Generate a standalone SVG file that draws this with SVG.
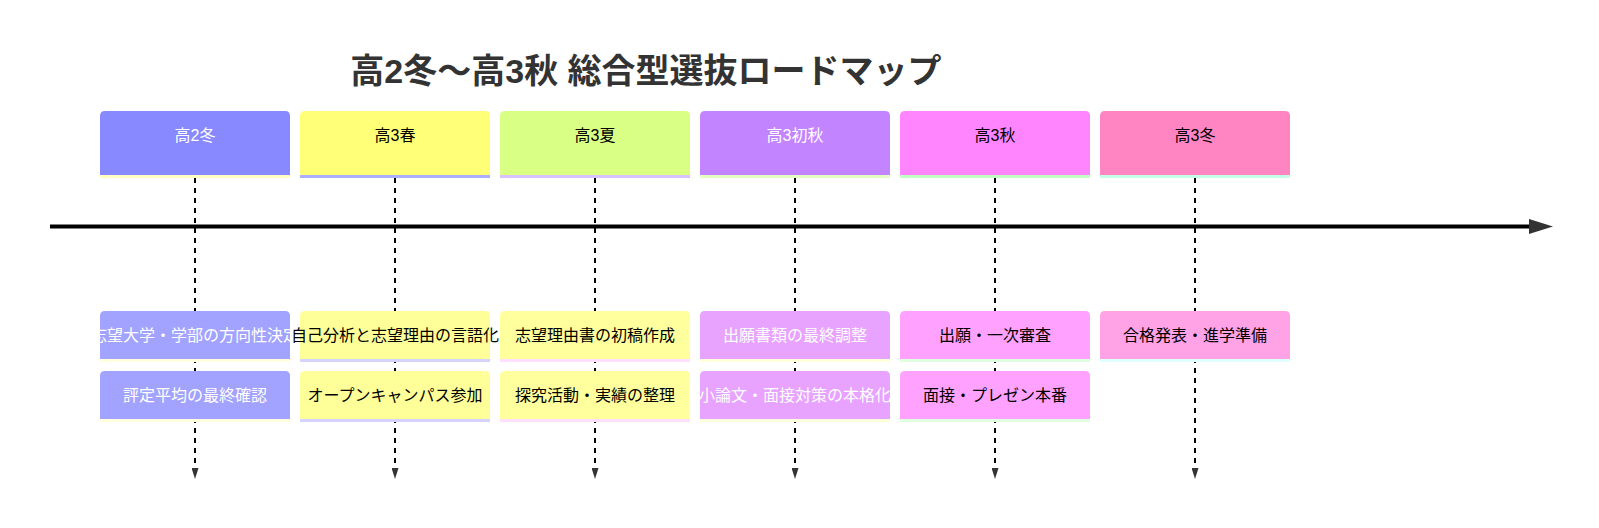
<svg xmlns="http://www.w3.org/2000/svg" width="1599" height="528" viewBox="0 0 1599 528">
<defs>
<marker id="arrowSmall" markerWidth="11" markerHeight="7" refX="10" refY="3.5" orient="auto" markerUnits="userSpaceOnUse" viewBox="0 0 11 7">
<path d="M0,0 L11,3.5 L0,7 Z" fill="#333"/>
</marker>
</defs>
<style>
text{font-family:"Liberation Sans","Noto Sans CJK JP",sans-serif;text-anchor:middle}
.title{font-size:34px;font-weight:bold;fill:#333}
.lbl{font-size:16px}
.w{fill:#ffffff}
.b{fill:#000000}
.vline{stroke:#000;stroke-width:2;stroke-dasharray:5,5;fill:none}
</style>
<rect width="1599" height="528" fill="#fff"/>
<text class="title" x="646" y="83">高2冬〜高3秋 総合型選抜ロードマップ</text>

<g id="connectors">
<line class="vline" x1="195" y1="178" x2="195" y2="478" marker-end="url(#arrowSmall)"/>
<line class="vline" x1="395" y1="178" x2="395" y2="478" marker-end="url(#arrowSmall)"/>
<line class="vline" x1="595" y1="178" x2="595" y2="478" marker-end="url(#arrowSmall)"/>
<line class="vline" x1="795" y1="178" x2="795" y2="478" marker-end="url(#arrowSmall)"/>
<line class="vline" x1="995" y1="178" x2="995" y2="478" marker-end="url(#arrowSmall)"/>
<line class="vline" x1="1195" y1="178" x2="1195" y2="478" marker-end="url(#arrowSmall)"/>
<line x1="50" y1="226.5" x2="1532" y2="226.5" stroke="#000" stroke-width="4"/>
<path d="M1529,219 L1553,226.5 L1529,234 Z" fill="#333"/>
</g>

<g id="period-0">
<path d="M100,116 q0,-5 5,-5 h180 q5,0 5,5 v59 h-190 Z" fill="#8888ff"/>
<rect x="100" y="175" width="190" height="3" fill="#ffffc2"/>
<text class="lbl w" x="195" y="141">高2冬</text>
</g>
<g id="period-1">
<path d="M300,116 q0,-5 5,-5 h180 q5,0 5,5 v59 h-190 Z" fill="#ffff78"/>
<rect x="300" y="175" width="190" height="3" fill="#aab0ff"/>
<text class="lbl b" x="395" y="141">高3春</text>
</g>
<g id="period-2">
<path d="M500,116 q0,-5 5,-5 h180 q5,0 5,5 v59 h-190 Z" fill="#d9ff85"/>
<rect x="500" y="175" width="190" height="3" fill="#d9c2ff"/>
<text class="lbl b" x="595" y="141">高3夏</text>
</g>
<g id="period-3">
<path d="M700,116 q0,-5 5,-5 h180 q5,0 5,5 v59 h-190 Z" fill="#c285ff"/>
<rect x="700" y="175" width="190" height="3" fill="#e4ffc2"/>
<text class="lbl w" x="795" y="141">高3初秋</text>
</g>
<g id="period-4">
<path d="M900,116 q0,-5 5,-5 h180 q5,0 5,5 v59 h-190 Z" fill="#ff85ff"/>
<rect x="900" y="175" width="190" height="3" fill="#c2ffc2"/>
<text class="lbl b" x="995" y="141">高3秋</text>
</g>
<g id="period-5">
<path d="M1100,116 q0,-5 5,-5 h180 q5,0 5,5 v59 h-190 Z" fill="#ff85c2"/>
<rect x="1100" y="175" width="190" height="3" fill="#c2ffe6"/>
<text class="lbl b" x="1195" y="141">高3冬</text>
</g>

<g id="event-0-0">
<path d="M100,316 q0,-5 5,-5 h180 q5,0 5,5 v43 h-190 Z" fill="#a2a2ff"/>
<rect x="100" y="359" width="190" height="3" fill="#ffffe0"/>
<text class="lbl w" x="195" y="341">志望大学・学部の方向性決定</text>
</g>
<g id="event-0-1">
<path d="M100,376 q0,-5 5,-5 h180 q5,0 5,5 v43 h-190 Z" fill="#a2a2ff"/>
<rect x="100" y="419" width="190" height="3" fill="#ffffe0"/>
<text class="lbl w" x="195" y="401">評定平均の最終確認</text>
</g>
<g id="event-1-0">
<path d="M300,316 q0,-5 5,-5 h180 q5,0 5,5 v43 h-190 Z" fill="#ffff99"/>
<rect x="300" y="359" width="190" height="3" fill="#d4d4ff"/>
<text class="lbl b" x="395" y="341">自己分析と志望理由の言語化</text>
</g>
<g id="event-1-1">
<path d="M300,376 q0,-5 5,-5 h180 q5,0 5,5 v43 h-190 Z" fill="#ffff99"/>
<rect x="300" y="419" width="190" height="3" fill="#d4d4ff"/>
<text class="lbl b" x="395" y="401">オープンキャンパス参加</text>
</g>
<g id="event-2-0">
<path d="M500,316 q0,-5 5,-5 h180 q5,0 5,5 v43 h-190 Z" fill="#ffff9e"/>
<rect x="500" y="359" width="190" height="3" fill="#ffe0ff"/>
<text class="lbl b" x="595" y="341">志望理由書の初稿作成</text>
</g>
<g id="event-2-1">
<path d="M500,376 q0,-5 5,-5 h180 q5,0 5,5 v43 h-190 Z" fill="#ffff9e"/>
<rect x="500" y="419" width="190" height="3" fill="#ffe0ff"/>
<text class="lbl b" x="595" y="401">探究活動・実績の整理</text>
</g>
<g id="event-3-0">
<path d="M700,316 q0,-5 5,-5 h180 q5,0 5,5 v43 h-190 Z" fill="#e8a2ff"/>
<rect x="700" y="359" width="190" height="3" fill="#ffffdc"/>
<text class="lbl w" x="795" y="341">出願書類の最終調整</text>
</g>
<g id="event-3-1">
<path d="M700,376 q0,-5 5,-5 h180 q5,0 5,5 v43 h-190 Z" fill="#e8a2ff"/>
<rect x="700" y="419" width="190" height="3" fill="#ffffdc"/>
<text class="lbl w" x="795" y="401">小論文・面接対策の本格化</text>
</g>
<g id="event-4-0">
<path d="M900,316 q0,-5 5,-5 h180 q5,0 5,5 v43 h-190 Z" fill="#ffa2ff"/>
<rect x="900" y="359" width="190" height="3" fill="#e0ffe0"/>
<text class="lbl b" x="995" y="341">出願・一次審査</text>
</g>
<g id="event-4-1">
<path d="M900,376 q0,-5 5,-5 h180 q5,0 5,5 v43 h-190 Z" fill="#ffa2ff"/>
<rect x="900" y="419" width="190" height="3" fill="#e0ffe0"/>
<text class="lbl b" x="995" y="401">面接・プレゼン本番</text>
</g>
<g id="event-5-0">
<path d="M1100,316 q0,-5 5,-5 h180 q5,0 5,5 v43 h-190 Z" fill="#ffa2e6"/>
<rect x="1100" y="359" width="190" height="3" fill="#e0ffff"/>
<text class="lbl b" x="1195" y="341">合格発表・進学準備</text>
</g>
</svg>
